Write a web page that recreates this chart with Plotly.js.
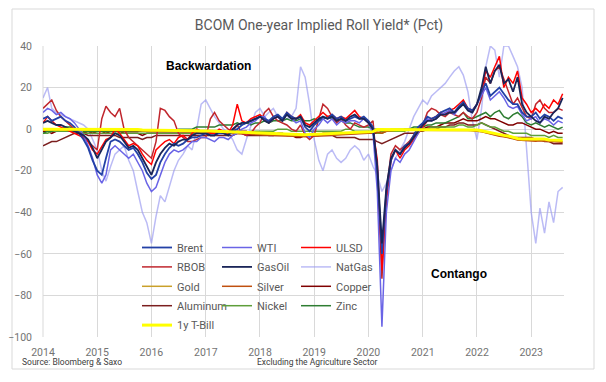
<!DOCTYPE html>
<html><head><meta charset="utf-8">
<script src="https://cdn.plot.ly/plotly-3.0.1.min.js"></script>
<style>html,body{margin:0;padding:0;background:#fff}#chart{width:606px;height:382px}</style>
</head><body><div id="chart"></div>
<script>
// monthly observation dates, Jan 2014 .. Aug 2023
const startYear = 2014, endYear = 2023, endMonth = 8;
const months = [];
for (let y = startYear; y <= endYear; y++) {
  for (let m = 1; m <= 12; m++) {
    if (y === endYear && m > endMonth) break;
    months.push(y + '-' + String(m).padStart(2, '0') + '-01');
  }
}

const brent = [
  5, 6, 4, 5, 6, 4, 3, 1, -2, -5, -9, -15,
  -20, -22, -14, -6, -5, -6, -8, -10, -9, -12, -16, -21,
  -24, -22, -16, -12, -9, -7, -8, -7, -5, -4, -4, -3,
  -2, -3, -3, -2, -2, -3, -1, 0, 2, 3, 4, 5,
  6, 5, 4, 6, 7, 5, 8, 6, 5, 6, 1, -1,
  2, 4, 6, 5, 7, 5, 6, 4, 5, 6, 5, 6,
  4, 1, -20, -60, -30, -15, -10, -12, -8, -7, -3, 1,
  3, 6, 5, 6, 8, 9, 10, 8, 11, 13, 10, 9,
  12, 18, 22, 16, 18, 20, 17, 14, 12, 12, 8, 6,
  6, 8, 5, 7, 6, 4, 6, 5
];
const wti = [
  8, 10, 9, 7, 8, 6, 5, 3, 0, -3, -8, -14,
  -22, -26, -22, -10, -8, -10, -12, -14, -12, -16, -20, -26,
  -30, -28, -22, -16, -12, -10, -11, -10, -8, -6, -6, -4,
  -4, -5, -6, -4, -4, -5, -3, -2, 0, 1, 3, 4,
  6, 6, 3, 5, 6, 4, 7, 5, 3, 4, -2, -4,
  0, 2, 5, 3, 5, 2, 4, 3, 4, 4, 3, 5,
  3, -2, -30, -95, -40, -20, -14, -16, -12, -10, -6, -2,
  2, 5, 4, 5, 7, 8, 9, 7, 10, 12, 9, 8,
  12, 16, 20, 14, 16, 18, 15, 11, 10, 11, 7, 4,
  5, 6, 3, 5, 4, 2, 4, 3
];
const ulsd = [
  3, 6, 4, 2, 1, 0, -1, -2, -3, -4, -6, -10,
  -12, -8, -5, -4, 0, -2, -5, -8, -7, -8, -12, -15,
  -17, -10, -8, -6, -5, -7, -4, -3, -5, -2, 0, -1,
  -1, -2, -2, 0, -1, -2, 2, 12, 4, 3, 5, 6,
  7, 5, 3, 5, 6, 4, 8, 6, 5, 7, 3, 2,
  4, 6, 8, 6, 7, 5, 6, 5, 7, 9, 6, 5,
  4, 0, -15, -68, -35, -15, -10, -14, -10, -8, -5, -2,
  1, 4, 5, 6, 8, 7, 9, 10, 12, 14, 10, 9,
  12, 18, 28, 25, 30, 35, 20, 25, 22, 28, 15, 12,
  8, 10, 8, 12, 10, 14, 12, 17
];
const rbob = [
  10, 12, 14, 9, 6, 4, 2, 0, -2, -4, -6, -8,
  -10, 5, 11, 8, 6, 10, 0, -4, -6, -8, -10, -12,
  -14, -6, 10, 9, 6, 4, -2, -4, -6, -6, -5, -4,
  -4, 5, 8, 4, 2, 0, -1, 2, -2, -3, -2, 1,
  3, 8, 10, 6, 4, 3, 2, 0, -1, 2, -3, -5,
  -3, 5, 12, 10, 6, 3, 5, 2, 0, 3, 2, 1,
  2, 4, -20, -72, -30, -12, -8, -10, -8, -6, -3, 0,
  2, 8, 10, 9, 7, 6, 8, 7, 6, 8, 6, 5,
  8, 15, 25, 22, 28, 30, 24, 18, 12, 15, 10, 6,
  5, 12, 14, 10, 8, 8, 10, 9
];
const gasoil = [
  3, 4, 3, 2, 2, 1, 0, -1, -2, -3, -5, -9,
  -14, -10, -6, -4, -2, -3, -6, -9, -8, -10, -14, -18,
  -22, -16, -12, -9, -7, -8, -6, -5, -5, -3, -2, -2,
  -2, -3, -3, -1, -2, -3, 0, 2, 3, 3, 4, 5,
  6, 4, 3, 5, 6, 4, 7, 5, 5, 6, 2, 1,
  3, 5, 6, 5, 6, 4, 5, 4, 6, 7, 5, 5,
  3, 0, -18, -55, -28, -14, -10, -12, -9, -7, -4, -1,
  2, 4, 4, 5, 7, 7, 8, 8, 10, 12, 9, 8,
  12, 20, 30, 22, 28, 31, 22, 24, 18, 25, 12, 8,
  6, 4, 3, 6, 5, 8, 10, 15
];
const natgas = [
  15, 20, 10, 8, 7, 6, 5, 4, 3, 2, 0, -5,
  -10, -20, -25, -18, -12, -10, -8, -15, -20, -30, -40, -45,
  -55, -42, -32, -35, -28, -20, -15, -12, -8, -10, 0, 12,
  14, 10, 6, 3, 0, -2, -5, -10, -12, -5, 2, 8,
  10, 6, 8, 10, 6, 4, 5, 6, 10, 30, 25, 12,
  -5, -15, -20, -12, -10, -14, -16, -14, -10, -8, -10, -15,
  -12, -18, -22, -30, -26, -20, -14, -10, -6, 0, 6, 10,
  14, 12, 16, 18, 20, 22, 25, 28, 30, 26, 18, 4,
  -5, 10, 30, 40, 38, 25, 40, 40, 35, 30, 20, -10,
  -40, -55, -38, -50, -35, -45, -30, -28
];
const gold = [
  -0.2, -0.2, -0.1, -0.2, -0.1, -0.1, -0.2, -0.2, -0.1, -0.1, -0.2, -0.3,
  -0.3, -0.2, -0.3, -0.4, -0.4, -0.4, -0.5, -0.5, -0.5, -0.4, -0.6, -0.8,
  -0.9, -0.8, -0.9, -0.9, -0.9, -0.8, -0.9, -1.0, -1.0, -1.1, -1.2, -1.4,
  -1.4, -1.4, -1.5, -1.6, -1.7, -1.8, -1.9, -1.9, -2.0, -2.1, -2.3, -2.4,
  -2.5, -2.6, -2.7, -2.9, -3.0, -3.1, -3.1, -3.2, -3.3, -3.4, -3.4, -3.3,
  -3.2, -3.1, -3.0, -2.9, -2.8, -2.5, -2.4, -2.3, -2.2, -2.1, -2.1, -2.0,
  -1.9, -1.6, -0.8, -0.6, -0.5, -0.4, -0.3, -0.3, -0.3, -0.3, -0.3, -0.3,
  -0.3, -0.3, -0.3, -0.3, -0.2, -0.3, -0.3, -0.3, -0.3, -0.3, -0.4, -0.6,
  -0.8, -1.1, -1.6, -2.2, -2.6, -3.2, -3.5, -3.8, -4.4, -5.0, -5.2, -5.2,
  -5.2, -5.5, -5.3, -5.3, -5.6, -5.8, -5.9, -5.9
];
const silver = [
  -0.4, -0.3, -0.3, -0.3, -0.2, -0.2, -0.3, -0.3, -0.2, -0.2, -0.3, -0.4,
  -0.4, -0.4, -0.5, -0.6, -0.6, -0.6, -0.7, -0.7, -0.7, -0.6, -0.8, -1.0,
  -1.1, -1.0, -1.1, -1.1, -1.1, -1.0, -1.1, -1.2, -1.2, -1.3, -1.4, -1.6,
  -1.6, -1.6, -1.7, -1.8, -1.9, -2.0, -2.1, -2.1, -2.2, -2.3, -2.5, -2.6,
  -2.7, -2.8, -2.9, -3.1, -3.2, -3.3, -3.3, -3.4, -3.5, -3.6, -3.6, -3.5,
  -3.4, -3.3, -3.2, -3.1, -3.0, -2.7, -2.6, -2.5, -2.4, -2.3, -2.3, -2.2,
  -2.1, -1.8, -1.5, -2.0, -1.0, -0.7, -0.5, -0.5, -0.5, -0.5, -0.5, -0.5,
  -0.5, -0.5, -0.5, -0.4, -0.4, -0.5, -0.5, -0.5, -0.5, -0.5, -0.6, -0.8,
  -1.0, -1.3, -1.8, -2.4, -2.8, -3.4, -3.7, -4.0, -4.6, -5.2, -5.4, -5.5,
  -5.5, -5.8, -5.6, -5.6, -5.9, -6.1, -6.2, -6.3
];
const copper = [
  -1, -1, -2, -1, 0, 0, -1, -1, -1, -2, -1, -2,
  -1, -1, -2, -1, -1, -1, -2, -2, -2, -2, -3, -2,
  -2, -2, -2, -2, -2, -2, -2, -2, -2, -2, -2, -2,
  -2, -2, -2, -1, -2, -2, -2, -1, -1, -1, -2, -2,
  -2, -2, -3, -3, -3, -3, -3, -3, -4, -4, -3, -3,
  -3, -3, -2, -2, -2, -2, -2, -2, -2, -2, -2, -2,
  -2, -2, -2, -1, -1, -1, -1, -1, 0, 0, 0, 0,
  0, 1, 1, 1, 2, 3, 3, 3, 4, 5, 4, 4,
  4, 5, 6, 5, 5, 4, 3, 2, 2, 3, 3, 2,
  1, 0, 0, -1, -2, -1, -2, -2
];
const aluminum = [
  -8, -7, -6, -6, -5, -4, -3, -2, -2, -2, -3, -3,
  -3, -3, -3, -3, -3, -4, -4, -4, -4, -4, -5, -4,
  -4, -3, -3, -3, -3, -3, -3, -3, -3, -3, -3, -3,
  -3, -3, -3, -3, -3, -3, -3, -2, -2, -3, -3, -3,
  -3, -3, -3, -3, -2, -2, -3, -3, -3, -3, -3, -3,
  -3, -3, -3, -3, -3, -4, -4, -4, -4, -4, -5, -5,
  -5, -5, -6, -7, -6, -5, -4, -3, -2, -2, -2, -1,
  -1, 0, 0, 0, 1, 1, 2, 2, 3, 3, 2, 2,
  2, 3, 2, 1, 0, -1, -2, -3, -4, -4, -4, -4,
  -4, -5, -5, -6, -6, -7, -7, -7
];
const nickel = [
  -2, -2, -1, -1, -1, -1, -1, -1, -1, -2, -2, -2,
  -2, -2, -2, -2, -2, -2, -2, -2, -2, -2, -2, -2,
  -2, -2, -2, -2, -2, -2, -2, -2, -2, -2, -2, -2,
  -2, -2, -2, -2, -2, -2, -2, -2, -2, -2, -1, -1,
  -1, -1, -1, -1, 0, 0, 0, -1, -1, -1, -1, -1,
  -1, -1, -1, -1, -1, -1, -1, 0, 0, -1, -1, -1,
  -1, -1, -2, -2, -1, -1, -1, -1, -1, 0, 0, 0,
  0, 0, 1, 1, 1, 1, 1, 1, 2, 2, 1, 1,
  2, 3, 2, 1, 1, 0, -1, -1, -2, -2, -2, -2,
  -3, -3, -3, -3, -4, -3, -4, -4
];
const zinc = [
  -2, -1, -1, 0, 0, 1, 1, 0, 0, -1, -1, -1,
  -1, -1, -1, -1, -1, -1, -1, -1, -1, -1, -1, -1,
  -1, -1, -1, -1, -1, -1, 0, 0, 0, 0, 1, 1,
  1, 1, 1, 2, 2, 2, 2, 3, 2, 3, 2, 3,
  3, 4, 3, 4, 4, 4, 5, 4, 4, 5, 4, 4,
  5, 4, 5, 6, 5, 5, 4, 3, 3, 2, 1, 1,
  1, 0, 0, -1, -1, 0, 0, 0, 0, 0, 1, 1,
  1, 2, 2, 3, 3, 3, 4, 5, 6, 8, 5, 5,
  6, 7, 8, 6, 8, 9, 6, 5, 7, 8, 6, 3,
  2, 3, 2, 1, 2, 1, 0, 1
];
const tbill = [
  0, 0, 0, 0, 0, 0, 0, 0, 0, 0, 0, -0.1,
  -0.1, -0.1, -0.2, -0.2, -0.2, -0.3, -0.3, -0.3, -0.3, -0.2, -0.4, -0.6,
  -0.5, -0.5, -0.5, -0.5, -0.6, -0.5, -0.5, -0.6, -0.6, -0.6, -0.8, -0.9,
  -0.8, -0.9, -1.0, -1.1, -1.2, -1.3, -1.3, -1.3, -1.4, -1.5, -1.7, -1.8,
  -1.9, -2.0, -2.1, -2.2, -2.3, -2.4, -2.4, -2.5, -2.6, -2.7, -2.7, -2.6,
  -2.5, -2.5, -2.4, -2.3, -2.2, -1.9, -1.9, -1.8, -1.8, -1.6, -1.6, -1.6,
  -1.5, -1.2, -0.2, -0.2, -0.2, -0.2, -0.1, -0.1, -0.1, -0.1, -0.1, -0.1,
  -0.1, -0.1, -0.1, -0.1, -0.1, -0.1, -0.1, -0.1, -0.1, -0.1, -0.2, -0.3,
  -0.4, -0.8, -1.2, -1.8, -2.1, -2.8, -3.0, -3.3, -3.9, -4.5, -4.7, -4.7,
  -4.7, -5.0, -4.7, -4.8, -5.2, -5.3, -5.4, -5.4
];

const yTicks = [40, 20, 0, -20, -40, -60, -80, -100];

// [name, values, color, width, legend, rank]  (drawing order)
const series = [
  ['NatGas', natgas, 'rgba(150,150,240,0.65)', 1.5, 'legend3', 2],
  ['Aluminum', aluminum, '#7b1e1e', 1.5, 'legend', 4],
  ['Copper', copper, '#800000', 1.5, 'legend3', 3],
  ['Nickel', nickel, '#5e9e3a', 1.5, 'legend2', 4],
  ['Zinc', zinc, '#2e7d32', 1.5, 'legend3', 4],
  ['Gold', gold, '#c9a02a', 1.5, 'legend', 3],
  ['Silver', silver, '#c0500f', 1.5, 'legend2', 3],
  ['RBOB', rbob, '#c0262d', 1.5, 'legend', 2],
  ['ULSD', ulsd, '#ff0000', 1.5, 'legend3', 1],
  ['WTI', wti, '#6a64e6', 1.5, 'legend2', 1],
  ['Brent', brent, '#2341a6', 1.8, 'legend', 1],
  ['GasOil', gasoil, '#1a2558', 1.8, 'legend2', 2],
  ['1y T-Bill', tbill, '#ffff00', 3, 'legend', 5]
];

const traces = series.map(([name, vals, color, width, leg, rank]) => ({
  type: 'scatter', mode: 'lines', name: name, x: months, y: vals,
  line: {color: color, width: width}, legend: leg, legendrank: rank,
  legendgroup: name, hoverinfo: 'skip'
}));

const L = 43, R = 564, T = 46, B = 337, W = 606, H = 382;
const pw = R - L, ph = B - T;
const px = v => (v - L) / pw;
const py = v => (B - v) / ph;

const legFont = {family: 'Roboto, sans-serif', size: 11, color: '#595959'};
const legBase = {orientation: 'v', bgcolor: 'rgba(0,0,0,0)', borderwidth: 0, font: legFont,
  tracegroupgap: 0.4, xanchor: 'left', yanchor: 'top', y: py(233), itemwidth: 30};

const layout = {
  width: W, height: H,
  margin: {l: L, r: W - R, t: T, b: H - B, pad: 0},
  paper_bgcolor: '#ffffff', plot_bgcolor: '#ffffff',
  font: {family: 'Roboto, sans-serif', color: '#595959'},
  title: {text: 'BCOM One-year Implied Roll Yield* (Pct)', x: px(319), xanchor: 'center', xref: 'paper',
    y: 1 - 25 / H, yanchor: 'middle', yref: 'container', font: {size: 14, color: '#595959'}},
  xaxis: {type: 'date', range: ['2014-01-01', '2023-08-10'], dtick: 'M12', tick0: '2014-01-01',
    tickformat: '%Y', showgrid: true, gridcolor: '#d9d9d9', gridwidth: 1, zeroline: false,
    showline: false, ticks: '', ticklabelstandoff: 7, tickfont: {size: 10.5, color: '#737373'}, fixedrange: true},
  yaxis: {range: [-100, 40], tickvals: yTicks, showgrid: true, gridcolor: '#d9d9d9', gridwidth: 1,
    zeroline: false, showline: false, ticks: '', ticklabelstandoff: 10,
    tickfont: {size: 10.5, color: '#737373'}, fixedrange: true},
  showlegend: true,
  legend: Object.assign({}, legBase, {x: px(137)}),
  legend2: Object.assign({}, legBase, {x: px(217)}),
  legend3: Object.assign({}, legBase, {x: px(296)}),
  shapes: [
    {type: 'rect', xref: 'paper', yref: 'paper', x0: px(12), x1: px(594), y0: py(369), y1: py(9),
      line: {color: '#d9d9d9', width: 1}, layer: 'below'},
    {type: 'line', xref: 'paper', yref: 'paper', x0: 0, x1: 0, y0: 0, y1: 1,
      line: {color: '#d9d9d9', width: 1}, layer: 'below'}
  ],
  annotations: [
    {text: '<b>Backwardation</b>', xref: 'paper', yref: 'paper', x: px(208), y: py(66),
      xanchor: 'center', yanchor: 'middle',
      showarrow: false, font: {family: 'Liberation Sans, Arial, sans-serif', size: 12, color: '#000'}},
    {text: '<b>Contango</b>', xref: 'paper', yref: 'paper', x: px(459), y: py(274),
      xanchor: 'center', yanchor: 'middle',
      showarrow: false, font: {family: 'Liberation Sans, Arial, sans-serif', size: 12, color: '#000'}},
    {text: 'Source: Bloomberg &amp; Saxo', xref: 'paper', yref: 'paper', x: px(20), xanchor: 'left',
      y: py(362), yanchor: 'middle',
      showarrow: false, font: {family: 'Roboto, sans-serif', size: 8.5, color: '#404040'}},
    {text: 'Excluding the Agriculture Sector', xref: 'paper', yref: 'paper', x: px(317), xanchor: 'center',
      y: py(362), yanchor: 'middle',
      showarrow: false, font: {family: 'Roboto, sans-serif', size: 8.5, color: '#404040'}}
  ]
};

Plotly.newPlot('chart', traces, layout, {staticPlot: true, displayModeBar: false});
</script></body></html>
